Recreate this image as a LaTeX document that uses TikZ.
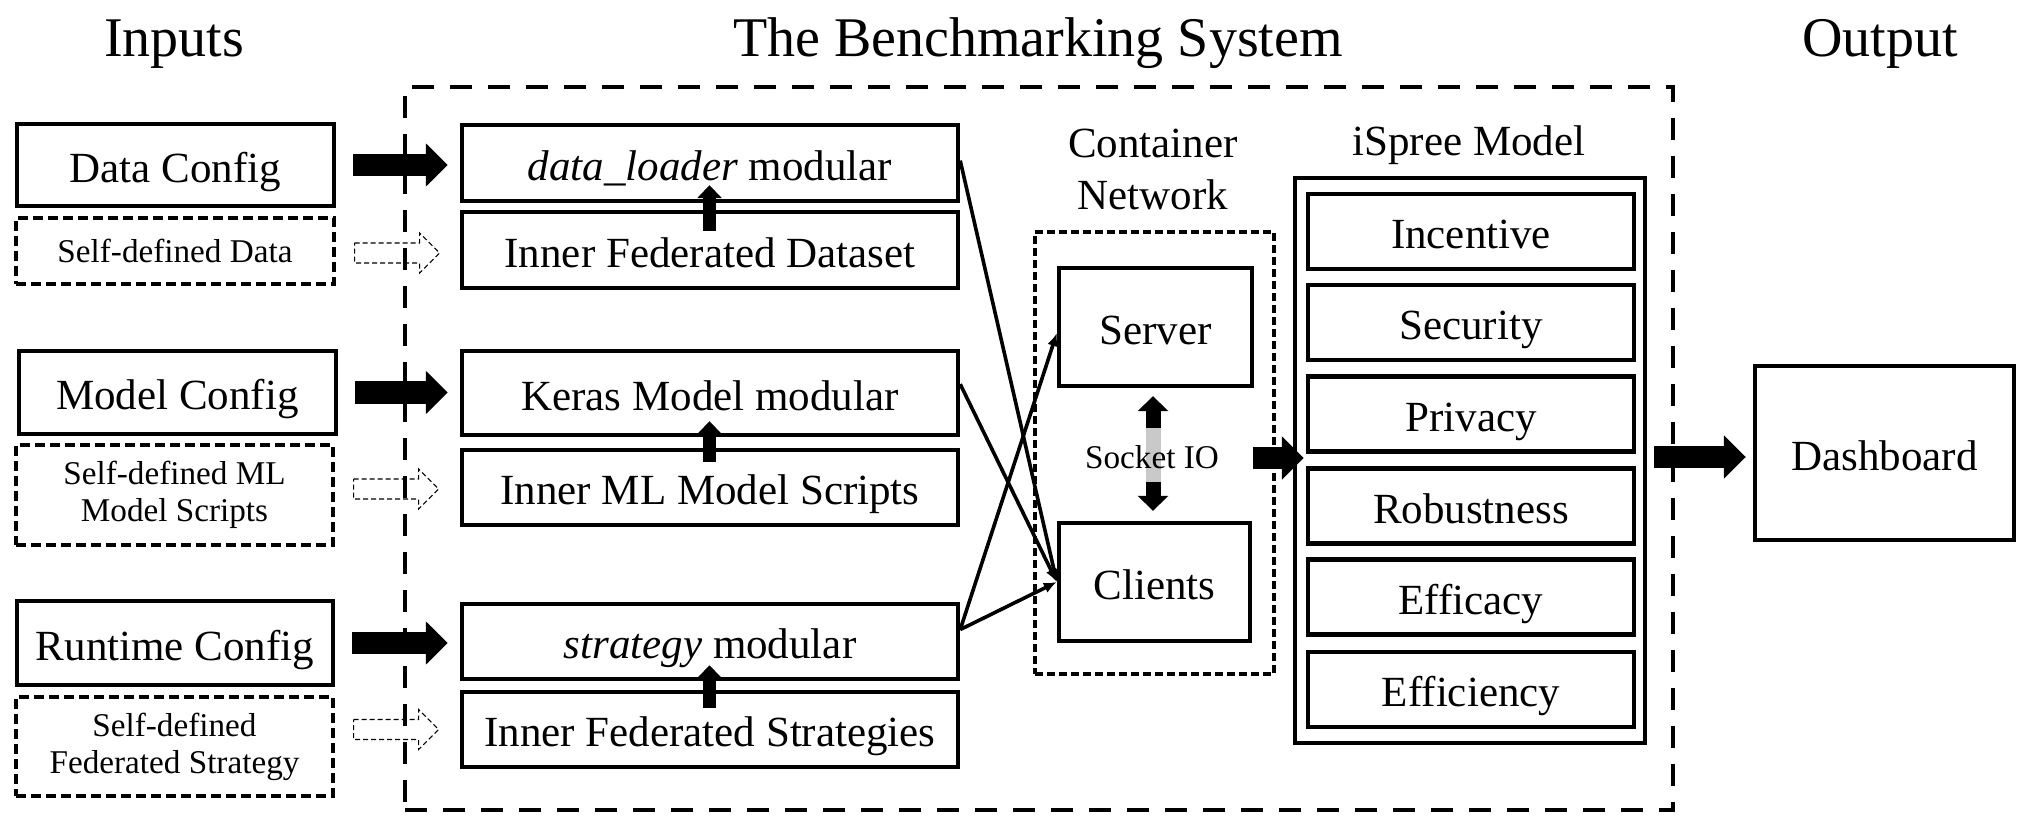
\documentclass[tikz,border=0pt]{standalone}
\usepackage{fontspec}
\setmainfont{Liberation Serif}
\usetikzlibrary{arrows.meta,calc}
\newcommand{\mainsz}{\fontsize{21.5}{26}\selectfont}
\newcommand{\smallsz}{\fontsize{16.6}{18.5}\selectfont}
\newcommand{\titlesz}{\fontsize{28}{32}\selectfont}
\tikzset{
  box/.style={draw, line width=2.2pt, inner sep=0pt, font=\mainsz, text height=17.4pt, text depth=0pt},
  frame/.style={draw, line width=2.2pt, inner sep=0pt},
  sdbox/.style={draw, line width=1.6pt, dash pattern=on 5pt off 2.5pt, inner sep=0pt, align=center, font=\smallsz},
  sysbox/.style={draw, line width=2pt, dash pattern=on 11pt off 8pt, inner sep=0pt},
  cnbox/.style={draw, line width=1.6pt, dash pattern=on 4pt off 2pt, inner sep=0pt},
  title/.style={font=\titlesz, inner sep=0pt, anchor=base},
  label/.style={font=\mainsz, inner sep=0pt, align=center},
  bigarrow/.style={line width=11pt, -{Triangle[length=11pt,width=21pt]}},
  uparrow/.style={line width=6.5pt, -{Triangle[length=6.5pt,width=12pt]}},
  hollow/.style={line width=0.6pt, dash pattern=on 2.5pt off 1.5pt},
  conn/.style={line width=1.8pt, -{Latex[length=6.5pt,width=5.5pt]}},
}
\begin{document}
\begin{tikzpicture}[x=0.5pt,y=-0.5pt]
\useasboundingbox (0,0) rectangle (2022,828);

% titles
\node[title] (tIn) at (174,57) {Inputs};
\node[title] (tSys) at (1038,57) {The Benchmarking System};
\node[title] (tOut) at (1880,57) {Output};

% system box
\node[sysbox, minimum width=634pt, minimum height=361.5pt] (sys) at (1039,448.5) {};

% inputs
\node[box, minimum width=158.5pt, minimum height=41pt] (DC) at (175.5,165) {Data Config};
\node[sdbox, minimum width=159pt, minimum height=33pt] (SD) at (175,251) {Self-defined Data};
\node[box, minimum width=158.5pt, minimum height=41.5pt] (MC) at (177.5,392.5) {Model Config};
\node[sdbox, minimum width=158.5pt, minimum height=50pt] (SM) at (174.5,495) {Self-defined ML\\Model Scripts};
\node[box, minimum width=158pt, minimum height=42pt] (RC) at (175,643) {Runtime Config};
\node[sdbox, minimum width=158.5pt, minimum height=49.5pt] (SS) at (174.5,746.5) {Self-defined\\Federated Strategy};

% modular column
\node[box, minimum width=248pt, minimum height=38pt] (DL) at (710,163) {\textit{data\_loader} modular};
\node[box, minimum width=248pt, minimum height=38pt] (IFD) at (710,250) {Inner Federated Dataset};
\node[box, minimum width=248pt, minimum height=42pt] (KM) at (710,393) {Keras Model modular};
\node[box, minimum width=248pt, minimum height=37.5pt] (IML) at (710,487.5) {Inner ML Model Scripts};
\node[box, minimum width=248pt, minimum height=37.5pt] (ST) at (710,641.5) {\textit{strategy} modular};
\node[box, minimum width=248pt, minimum height=37.5pt] (IFS) at (710,729.5) {Inner Federated Strategies};

% container network
\node[label] (cnl) at (1153,169) {Container\\Network};
\node[cnbox, minimum width=119.5pt, minimum height=221pt] (CN) at (1154.5,453) {};
\node[box, minimum width=96.5pt, minimum height=59pt] (SV) at (1155.5,327) {Server};
\node[box, minimum width=95.5pt, minimum height=59pt] (CL) at (1154.5,582) {Clients};

% iSpree model
\node[label] (ispl) at (1469,145) {iSpree Model};
\node[frame, minimum width=175pt, minimum height=282.5pt] (ISP) at (1470,460.5) {};
\node[box, minimum width=163pt, minimum height=37.5pt] (I1) at (1471,231.5) {Incentive};
\node[box, minimum width=163pt, minimum height=37.5pt] (I2) at (1471,322.5) {Security};
\node[box, minimum width=163pt, minimum height=37.5pt] (I3) at (1471,414) {Privacy};
\node[box, minimum width=163pt, minimum height=37.5pt] (I4) at (1471,506) {Robustness};
\node[box, minimum width=163pt, minimum height=37.5pt] (I5) at (1471,597) {Efficacy};
\node[box, minimum width=163pt, minimum height=37.5pt] (I6) at (1471,689.5) {Efficiency};

% output
\node[box, minimum width=129.5pt, minimum height=87pt] (DB) at (1884.5,453) {Dashboard};

% big arrows
\draw[bigarrow, shorten <=8.5pt, shorten >=6pt] (DC.east) -- (DC.east -| DL.west);
\draw[bigarrow, shorten <=8.5pt, shorten >=6pt] (MC.east) -- (MC.east -| KM.west);
\draw[bigarrow, shorten <=8.5pt, shorten >=6pt] (RC.east) -- (RC.east -| ST.west);
\draw[bigarrow, shorten <=-11.5pt, shorten >=-5.5pt] ([yshift=-2.5pt]CN.east) -- ([yshift=-2.5pt]CN.east -| ISP.west);
\draw[bigarrow, shorten <=3.5pt, shorten >=3.5pt] ([yshift=-2pt]DB.west -| ISP.east) -- ([yshift=-2pt]DB.west);

% hollow dashed arrows
\draw[hollow] ($(SD.east)+(19,2)$) ++(0,-10) -- ++(65,0) -- ++(0,-10) -- ++(20,20) -- ++(-20,20) -- ++(0,-10) -- ++(-65,0) -- cycle;
\draw[hollow] ($(SM.east)+(19,-6)$) ++(0,-10) -- ++(65,0) -- ++(0,-10) -- ++(20,20) -- ++(-20,20) -- ++(0,-10) -- ++(-65,0) -- cycle;
\draw[hollow] ($(SS.east)+(19,-17)$) ++(0,-10) -- ++(65,0) -- ++(0,-10) -- ++(20,20) -- ++(-20,20) -- ++(0,-10) -- ++(-65,0) -- cycle;

% small up arrows
\draw[uparrow] ([yshift=-10.5pt,xshift=-0.25pt]IFD.north) -- ([yshift=9pt,xshift=-0.25pt]DL.south);
\draw[uparrow] ([yshift=-7pt,xshift=-0.25pt]IML.north) -- ([yshift=8pt,xshift=-0.25pt]KM.south);
\draw[uparrow] ([yshift=-9pt,xshift=-0.25pt]IFS.north) -- ([yshift=8pt,xshift=-0.25pt]ST.south);

% connectors to container
\draw[conn] ($(DL.north east)!0.47!(DL.south east)$) -- (CL.west);
\draw[conn] ($(KM.north east)!0.4!(KM.south east)$) -- (CL.west);
\draw[conn] ($(ST.north east)!0.35!(ST.south east)$) -- ($(SV.north west)!0.55!(SV.south west)$);
\draw[conn] ($(ST.north east)!0.35!(ST.south east)$) -- (CL.west);

% socket io
\draw[line width=7.5pt, {Triangle[length=7.5pt,width=15pt]}-{Triangle[length=7.5pt,width=15pt]}, shorten <=4pt, shorten >=5pt] ([xshift=-1.25pt]SV.south) -- ([xshift=-1.25pt]SV.south |- CL.north);
\draw[line width=7.5pt, black!21] ([xshift=-1.25pt,yshift=-20pt]SV.south) -- ([xshift=-1.25pt,yshift=19.5pt]SV.south |- CL.north);
\node[font=\smallsz, inner sep=0pt] (sio) at (1152,457) {Socket IO};
\end{tikzpicture}
\end{document}
